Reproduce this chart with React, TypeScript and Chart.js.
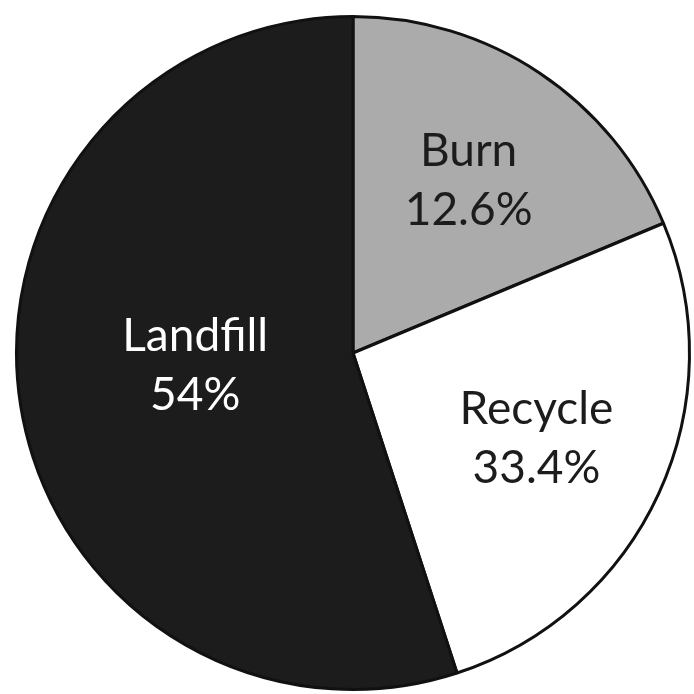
import React, { useEffect, useRef } from "react";
import { Chart, registerables } from "chart.js";

Chart.register(...registerables);

// Categories, clockwise from 12 o'clock
const categories = ["Burn", "Recycle", "Landfill"];
// Shares as drawn in the picture (slice angles)
const sliceShares = [18.7, 26.3, 55.0];
// Percentages printed on the slices
const printedPercents = ["12.6%", "33.4%", "54%"];
const sliceColors = ["#ababab", "#ffffff", "#1c1c1c"];
const labelColors = ["#1c1c1c", "#1c1c1c", "#ffffff"];
// label placement: fraction of radius and angular nudge (deg)
const labelRadiusFrac = [0.62, 0.6, 0.47];
const labelAngleNudge = [0, 0, 5];

const labelPlugin = {
  id: "sliceLabels",
  afterDatasetsDraw(chart: any) {
    const ctx = chart.ctx;
    const meta = chart.getDatasetMeta(0);
    ctx.save();
    ctx.font = "46px Lato";
    ctx.textAlign = "center";
    ctx.textBaseline = "alphabetic";
    meta.data.forEach((arc: any, i: number) => {
      const p = arc.getProps(["x", "y", "startAngle", "endAngle", "outerRadius"], true);
      const mid = (p.startAngle + p.endAngle) / 2 + (labelAngleNudge[i] * Math.PI) / 180;
      const r = p.outerRadius * labelRadiusFrac[i];
      const cx = p.x + Math.cos(mid) * r;
      const cy = p.y + Math.sin(mid) * r;
      ctx.fillStyle = labelColors[i];
      ctx.fillText(categories[i], cx, cy - 13);
      ctx.fillText(printedPercents[i], cx, cy + 46);
    });
    ctx.restore();
  },
};

export default function App() {
  const ref = useRef<HTMLCanvasElement | null>(null);
  useEffect(() => {
    if (!ref.current) return;
    const chart = new Chart(ref.current, {
      type: "pie",
      data: {
        labels: categories,
        datasets: [
          {
            data: sliceShares,
            backgroundColor: sliceColors,
            borderColor: "#111111",
            borderWidth: 3,
            borderAlign: "center",
          },
        ],
      },
      options: {
        responsive: false,
        animation: false,
        devicePixelRatio: 1,
        layout: { padding: { left: 15, top: 15, right: 3, bottom: 3 } },
        plugins: {
          legend: { display: false },
          tooltip: { enabled: false },
        },
      },
      plugins: [labelPlugin],
    });
    return () => chart.destroy();
  }, []);
  return (
    <div style={{ position: "fixed", left: 0, top: 0, width: 694, height: 694, background: "#fff" }}>
      <canvas ref={ref} width={694} height={694} />
    </div>
  );
}
